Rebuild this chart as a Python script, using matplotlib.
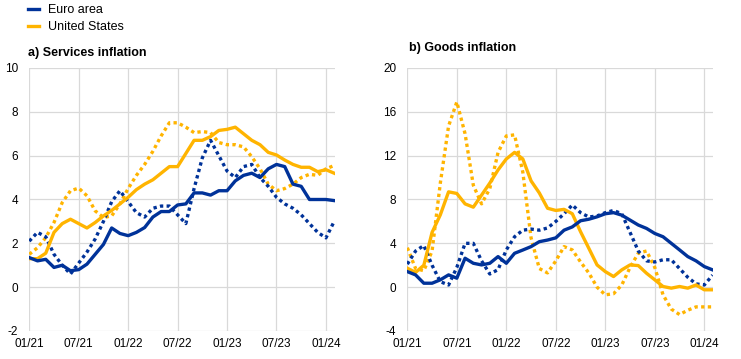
import matplotlib
matplotlib.use("Agg")
import matplotlib.pyplot as plt
import numpy as np
from matplotlib.lines import Line2D

plt.rcParams['font.family'] = ['Liberation Sans', 'DejaVu Sans']
plt.rcParams['axes.unicode_minus'] = False

# Monthly observations, Jan 2021 .. Feb 2024
tick_labels = ["01/21", "07/21", "01/22", "07/22", "01/23", "07/23", "01/24"]

ea_serv = [1.35, 1.2, 1.27, 0.9, 1.0, 0.75, 0.8, 1.05, 1.5, 1.95, 2.7, 2.45,
           2.35, 2.5, 2.72, 3.2, 3.45, 3.45, 3.75, 3.8, 4.3, 4.3, 4.2, 4.4,
           4.4, 4.85, 5.1, 5.2, 5.0, 5.4, 5.6, 5.5, 4.7, 4.6, 4.0, 4.0,
           4.0, 3.95]
ea_serv_3m = [2.1, 2.5, 2.3, 1.5, 1.0, 0.6, 1.1, 1.6, 2.2, 3.0, 3.9, 4.4,
              3.9, 3.4, 3.2, 3.6, 3.7, 3.7, 3.3, 2.9, 4.5, 5.9, 6.7, 6.0,
              5.3, 5.0, 5.5, 5.6, 5.0, 4.6, 4.1, 3.8, 3.6, 3.3, 2.9, 2.5,
              2.25, 3.0]
us_serv = [1.3, 1.3, 1.55, 2.5, 2.9, 3.1, 2.9, 2.7, 2.95, 3.25, 3.5, 3.8,
           4.1, 4.45, 4.7, 4.9, 5.2, 5.5, 5.5, 6.1, 6.7, 6.7, 6.87, 7.15,
           7.2, 7.3, 7.0, 6.7, 6.5, 6.15, 6.03, 5.8, 5.6, 5.47, 5.47, 5.27,
           5.36, 5.2]
us_serv_3m = [1.5, 1.8, 2.26, 2.95, 3.86, 4.4, 4.52, 4.17, 3.48, 3.18, 3.25, 3.8,
              4.5, 5.1, 5.6, 6.2, 6.9, 7.5, 7.5, 7.3, 7.05, 7.1, 7.05, 6.6,
              6.5, 6.5, 6.4, 5.95, 5.4, 4.7, 4.4, 4.5, 4.7, 5.0, 5.15, 5.1,
              5.4, 5.55]

ea_goods = [1.42, 1.12, 0.36, 0.36, 0.67, 1.12, 0.82, 2.64, 2.18, 2.03, 2.18, 2.79,
            2.18, 3.09, 3.39, 3.7, 4.15, 4.3, 4.5, 5.2, 5.5, 6.06, 6.2, 6.42,
            6.7, 6.8, 6.57, 6.12, 5.67, 5.36, 4.9, 4.6, 4.0, 3.4, 2.79, 2.4,
            1.88, 1.58]
ea_goods_3m = [2.1, 3.3, 3.8, 2.0, 0.5, 0.2, 1.8, 4.0, 4.0, 2.4, 1.2, 1.6,
               3.4, 4.6, 5.2, 5.3, 5.2, 5.4, 6.0, 6.7, 7.5, 6.8, 6.4, 6.5,
               6.8, 7.0, 6.7, 5.0, 3.3, 2.4, 2.3, 2.5, 2.5, 1.7, 0.9, 0.3,
               0.2, 1.1]
us_goods = [1.73, 1.35, 2.0, 5.0, 6.6, 8.7, 8.55, 7.6, 7.3, 8.4, 9.5, 10.7,
            11.7, 12.3, 11.7, 9.7, 8.6, 7.2, 7.0, 7.1, 6.7, 5.06, 3.55, 2.03,
            1.42, 0.97, 1.58, 2.03, 1.97, 1.27, 0.67, 0.06, -0.09, 0.06, -0.09, 0.2,
            -0.24, -0.24]
us_goods_3m = [3.6, 1.7, 1.5, 3.3, 9.5, 14.7, 16.9, 14.0, 9.3, 7.6, 9.0, 12.3,
               13.8, 13.9, 10.5, 4.5, 1.7, 1.3, 2.4, 3.7, 3.4, 2.3, 1.3, 0.0,
               -0.7, -0.6, 0.2, 1.8, 3.1, 3.3, 1.8, -0.7, -2.0, -2.5, -2.1, -1.8,
               -1.8, -1.8]

BLUE = "#003299"
YELLOW = "#FFB400"
GRID = "#d9d9d9"

fig = plt.figure(figsize=(7.41, 3.59), dpi=100)
ax1 = fig.add_axes([0.0395, 0.078, 0.4126, 0.7326])
ax2 = fig.add_axes([0.5497, 0.078, 0.4130, 0.7326])

x = np.arange(len(ea_serv))
lw = 2.4
dot = (0, (1, 1))


def style(ax, ymin, ymax, ystep):
    ax.set_xlim(0, 37.1)
    ax.set_ylim(ymin, ymax)
    ax.set_xticks(np.arange(0, 37, 6))
    ax.set_xticklabels(tick_labels)
    ax.set_yticks(np.arange(ymin, ymax + 0.1, ystep))
    ax.grid(True, color=GRID, linewidth=0.9)
    ax.set_axisbelow(True)
    for s in ax.spines.values():
        s.set_visible(False)
    ax.tick_params(axis='both', length=0, labelsize=8.5, colors="#000000")
    ax.tick_params(axis='y', pad=8)
    ax.tick_params(axis='x', pad=5)


def draw(ax, ea, ea3, us, us3):
    ax.plot(x, us3, color=YELLOW, lw=lw, linestyle=dot, dash_capstyle='butt', zorder=3)
    ax.plot(x, ea3, color=BLUE, lw=lw, linestyle=dot, dash_capstyle='butt', zorder=3)
    ax.plot(x, us, color=YELLOW, lw=lw, zorder=4)
    ax.plot(x, ea, color=BLUE, lw=lw, zorder=5)


draw(ax1, ea_serv, ea_serv_3m, us_serv, us_serv_3m)
draw(ax2, ea_goods, ea_goods_3m, us_goods, us_goods_3m)
style(ax1, -2, 10, 2)
style(ax2, -4, 20, 4)

fig.text(28 / 741, 1 - 53 / 359, "a) Services inflation", fontsize=9, fontweight='bold', va='center', ha='left')
fig.text(409 / 741, 1 - 48 / 359, "b) Goods inflation", fontsize=9, fontweight='bold', va='center', ha='left')

handles = [Line2D([], [], color=BLUE, lw=lw), Line2D([], [], color=YELLOW, lw=lw)]
fig.legend(handles, ["Euro area", "United States"], loc='upper left',
           bbox_to_anchor=(28 / 741, 1.0 - 4 / 359), frameon=False, fontsize=9,
           handlelength=0.9, handletextpad=0.7, labelspacing=0.4, borderaxespad=0.0,
           borderpad=0.0)

fig.savefig("out.png", dpi=100)
